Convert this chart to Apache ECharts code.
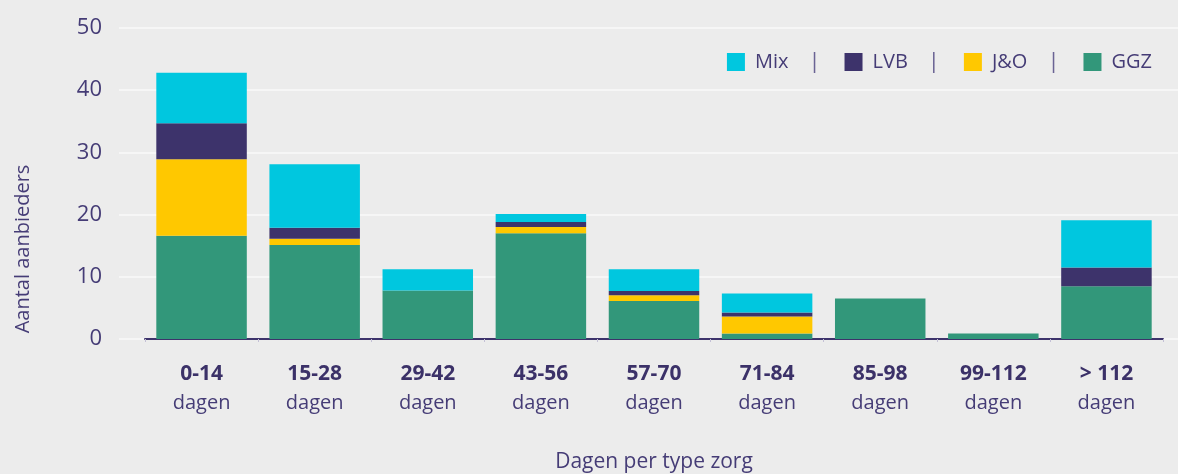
<!DOCTYPE html>
<html>
<head>
<meta charset="utf-8">
<script src="https://cdn.jsdelivr.net/npm/echarts@6/dist/echarts.min.js"></script>
<style>
html, body { margin: 0; padding: 0; background: #ececec; }
#chart { width: 1178px; height: 474px; }
</style>
</head>
<body>
<div id="chart"></div>
<script>
// categorieen (wachttijd) en waarden per type zorg
var ranges = ['0-14', '15-28', '29-42', '43-56', '57-70', '71-84', '85-98', '99-112', '> 112'];
var ggz = [16.6, 15.1, 7.8, 17.0, 6.1, 0.9, 6.5, 0.9, 8.5];
var jeno = [12.3, 1.0, 0, 1.0, 0.95, 2.7, 0, 0, 0];
var lvb = [5.8, 1.8, 0, 0.8, 0.65, 0.65, 0, 0, 3.0];
var mix = [8.1, 10.2, 3.4, 1.3, 3.5, 3.05, 0, 0, 7.6];
var yTicks = [0, 10, 20, 30, 40, 50];

var font = 'Open Sans';
var textColor = '#453c76';

var myChart = echarts.init(document.getElementById('chart'));

function serie(name, data, color) {
    return {
        name: name,
        type: 'bar',
        stack: 'zorg',
        xAxisIndex: 1,
        yAxisIndex: 1,
        barWidth: '80%',
        itemStyle: { color: color },
        data: data
    };
}

var option = {
    backgroundColor: '#ececec',
    animation: false,
    textStyle: { fontFamily: font },
    grid: [
        // achtergrond-raster met y-as
        { left: 119, right: 0, top: 28, bottom: 135, outerBoundsMode: 'none' },
        // staven
        { left: 145, right: 15, top: 28, bottom: 135, outerBoundsMode: 'none' }
    ],
    legend: {
        data: ['Mix', 'LVB', 'J&O', 'GGZ'],
        right: 21,
        top: 46,
        icon: 'rect',
        itemWidth: 18,
        itemHeight: 18,
        itemGap: 24,
        formatter: function (name) {
            if (name === 'GGZ') return '{t|' + name + '}';
            return '{t|' + name + '}{s||}';
        },
        textStyle: {
            fontFamily: font,
            rich: {
                t: { fontSize: 20, color: textColor, padding: [0, 0, 0, 5], fontFamily: font },
                s: { fontSize: 22, color: '#6a6394', padding: [0, 0, 0, 20], fontFamily: font }
            }
        }
    },
    xAxis: [
        {
            type: 'value', gridIndex: 0, show: false, min: 0, max: 1
        },
        {
            type: 'category',
            gridIndex: 1,
            data: ranges,
            axisLine: { lineStyle: { color: '#3d336b', width: 2 } },
            axisTick: { show: true, length: 3, lineStyle: { color: '#c4c0d6' } },
            axisLabel: {
                margin: 21,
                formatter: function (v) { return '{b|' + v + '}\n{n|dagen}'; },
                rich: {
                    b: { fontSize: 21, fontWeight: 'bold', color: '#3b3168', lineHeight: 29, fontFamily: font },
                    n: { fontSize: 20, color: textColor, lineHeight: 29, fontFamily: font }
                }
            },
            name: 'Dagen per type zorg',
            nameLocation: 'middle',
            nameGap: 113,
            nameTextStyle: { fontSize: 21, color: textColor, fontFamily: font }
        }
    ],
    yAxis: [
        {
            type: 'value',
            gridIndex: 0,
            min: yTicks[0],
            max: yTicks[yTicks.length - 1],
            interval: 10,
            axisLine: { show: false },
            axisTick: { show: false },
            axisLabel: { fontSize: 22, color: textColor, margin: 17, fontFamily: font },
            splitLine: { lineStyle: { color: '#fafafa', width: 1.5 } }
        },
        {
            type: 'value',
            gridIndex: 1,
            min: yTicks[0],
            max: yTicks[yTicks.length - 1],
            interval: 10,
            show: false,
            splitLine: { show: false }
        }
    ],
    graphic: [
        {
            type: 'text',
            x: 13,
            y: 249,
            rotation: Math.PI / 2,
            style: {
                text: 'Aantal aanbieders',
                fontSize: 20,
                fill: textColor,
                fontFamily: font,
                align: 'center',
                verticalAlign: 'top'
            }
        }
    ],
    series: [
        serie('GGZ', ggz, '#32977a'),
        serie('J&O', jeno, '#ffc800'),
        serie('LVB', lvb, '#3d336b'),
        serie('Mix', mix, '#00c7df')
    ]
};

myChart.setOption(option);
</script>
</body>
</html>
